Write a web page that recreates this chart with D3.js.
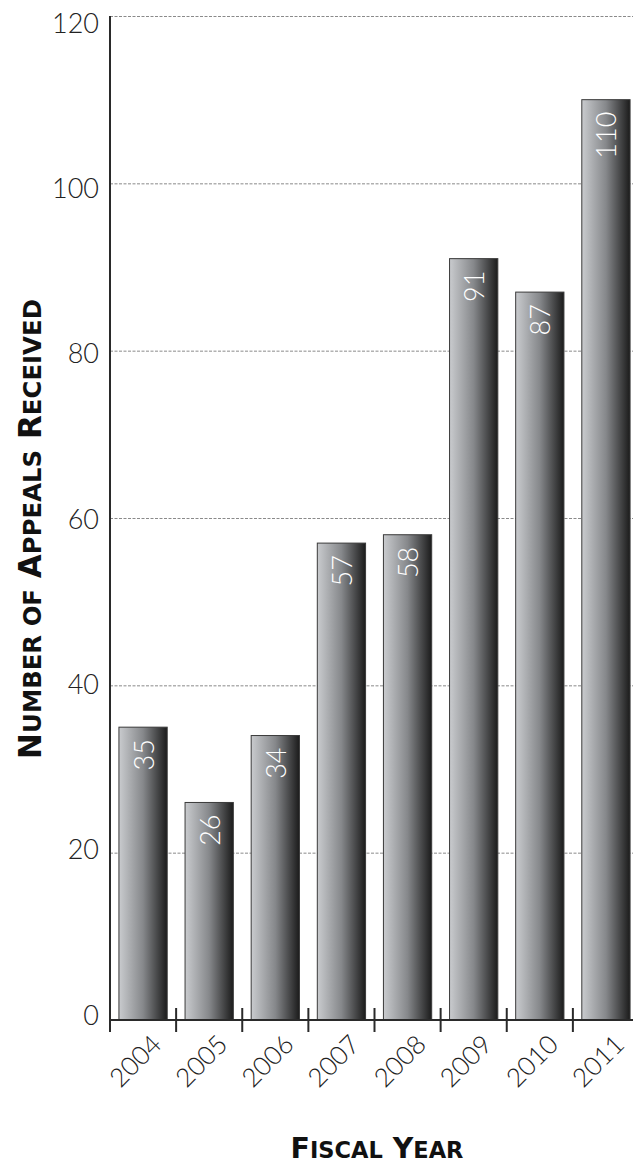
<!DOCTYPE html>
<html><head><meta charset="utf-8">
<script src="https://cdn.jsdelivr.net/npm/d3@7"></script>
<style>body{margin:0;background:#fff} svg{display:block}</style>
</head><body>
<svg id="c" width="633" height="1165"></svg>
<script>
const years = ["2004","2005","2006","2007","2008","2009","2010","2011"];
const appeals = [35, 26, 34, 57, 58, 91, 87, 110];
const yTicks = [0, 20, 40, 60, 80, 100, 120];
const yTitle = "Number of Appeals Received";
const xTitle = "Fiscal Year";

const data = years.map((yr, i) => ({year: yr, value: appeals[i]}));
const svg = d3.select("#c");
const lightFont = "Lato, 'Open Sans', sans-serif";
const boldFont = "'DejaVu Sans', Lato, sans-serif";

const plotL = 110, plotR = 639, plotT = 16, plotB = 1020;
const x = d3.scaleBand().domain(years).range([plotL, plotR]).paddingInner(0.27).paddingOuter(0.135);
const xTick = d3.scaleBand().domain(years).range([plotL, plotR]).padding(0);
const y = d3.scaleLinear().domain([0, 120]).range([plotB, plotT]);
const yLab = d3.scaleLinear().domain([0, 120]).range([1014, 22]);

// gradient
const defs = svg.append("defs");
const g = defs.append("linearGradient").attr("id", "barGrad").attr("x1", "0").attr("x2", "1").attr("y1", "0").attr("y2", "0");
g.append("stop").attr("offset", "0%").attr("stop-color", "#c9cbce");
g.append("stop").attr("offset", "50%").attr("stop-color", "#86888b");
g.append("stop").attr("offset", "100%").attr("stop-color", "#1b1b1b");

// gridlines
svg.append("g").selectAll("line").data(yTicks.filter(v => v > 0)).join("line")
  .attr("x1", plotL).attr("x2", 633)
  .attr("y1", d => y(d) + 0.5).attr("y2", d => y(d) + 0.5)
  .attr("stroke", "#8a8a8a").attr("stroke-width", 1).attr("stroke-dasharray", "3,1.5");

// bars
svg.append("g").selectAll("rect").data(data).join("rect")
  .attr("x", d => x(d.year)).attr("width", x.bandwidth())
  .attr("y", d => y(d.value)).attr("height", d => plotB - y(d.value))
  .attr("fill", "url(#barGrad)").attr("stroke", "#3a3a3a").attr("stroke-width", 1);

// bar labels
svg.append("g").selectAll("text").data(data).join("text")
  .attr("transform", d => `translate(${x(d.year) + x.bandwidth() / 2},${y(d.value) + 12}) rotate(-90)`)
  .attr("text-anchor", "end").attr("dominant-baseline", "central")
  .attr("fill", "#fff").attr("font-family", lightFont).attr("font-weight", 300)
  .attr("font-size", 27).text(d => d.value);

// axes lines
svg.append("line").attr("x1", plotL).attr("x2", plotL).attr("y1", plotT).attr("y2", 1032)
  .attr("stroke", "#2a2a2a").attr("stroke-width", 2);
svg.append("line").attr("x1", plotL).attr("x2", 633).attr("y1", plotB).attr("y2", plotB)
  .attr("stroke", "#2a2a2a").attr("stroke-width", 2);
// x ticks
svg.append("g").selectAll("line").data(years).join("line")
  .attr("x1", d => xTick(d)).attr("x2", d => xTick(d))
  .attr("y1", 1008).attr("y2", 1032)
  .attr("stroke", "#2a2a2a").attr("stroke-width", 2);

// y tick labels
svg.append("g").selectAll("text").data(yTicks).join("text")
  .attr("x", 99).attr("y", d => yLab(d))
  .attr("text-anchor", "end").attr("dominant-baseline", "central")
  .attr("fill", "#222").attr("font-family", lightFont).attr("font-weight", 300)
  .attr("font-size", 27).text(d => d);

// x tick labels
svg.append("g").selectAll("text").data(years).join("text")
  .attr("transform", d => `translate(${x(d) + x.bandwidth() / 2 + 20},${1046}) rotate(-45)`)
  .attr("text-anchor", "end")
  .attr("fill", "#222").attr("font-family", lightFont).attr("font-weight", 300)
  .attr("font-size", 26).text(d => d);

// small caps helper: capitalised words get a large first letter, short words all small
function smallCaps(sel, text, big, small, targetLen) {
  text.split(" ").forEach((w, i) => {
    const sp = i > 0 ? " " : "";
    if (w[0] === w[0].toUpperCase()) {
      sel.append("tspan").attr("class", "b").attr("font-size", big).text(sp + w[0]);
      sel.append("tspan").attr("class", "s").attr("font-size", small).text(w.slice(1).toUpperCase());
    } else {
      sel.append("tspan").attr("class", "s").attr("font-size", small).text(sp + w.toUpperCase());
    }
  });
  const len = sel.node().getComputedTextLength();
  const f = targetLen / len;
  sel.selectAll("tspan.b").attr("font-size", big * f);
  sel.selectAll("tspan.s").attr("font-size", small * f);
}

const yt = svg.append("text")
  .attr("transform", "translate(41,529) rotate(-90)")
  .attr("text-anchor", "middle").attr("fill", "#111")
  .attr("font-family", boldFont).attr("font-weight", "bold");
smallCaps(yt, yTitle, 28, 22, 460);

const xt = svg.append("text")
  .attr("x", 377).attr("y", 1158)
  .attr("text-anchor", "middle").attr("fill", "#111")
  .attr("font-family", boldFont).attr("font-weight", "bold");
smallCaps(xt, xTitle, 29, 23, 173);
</script>
</body></html>
